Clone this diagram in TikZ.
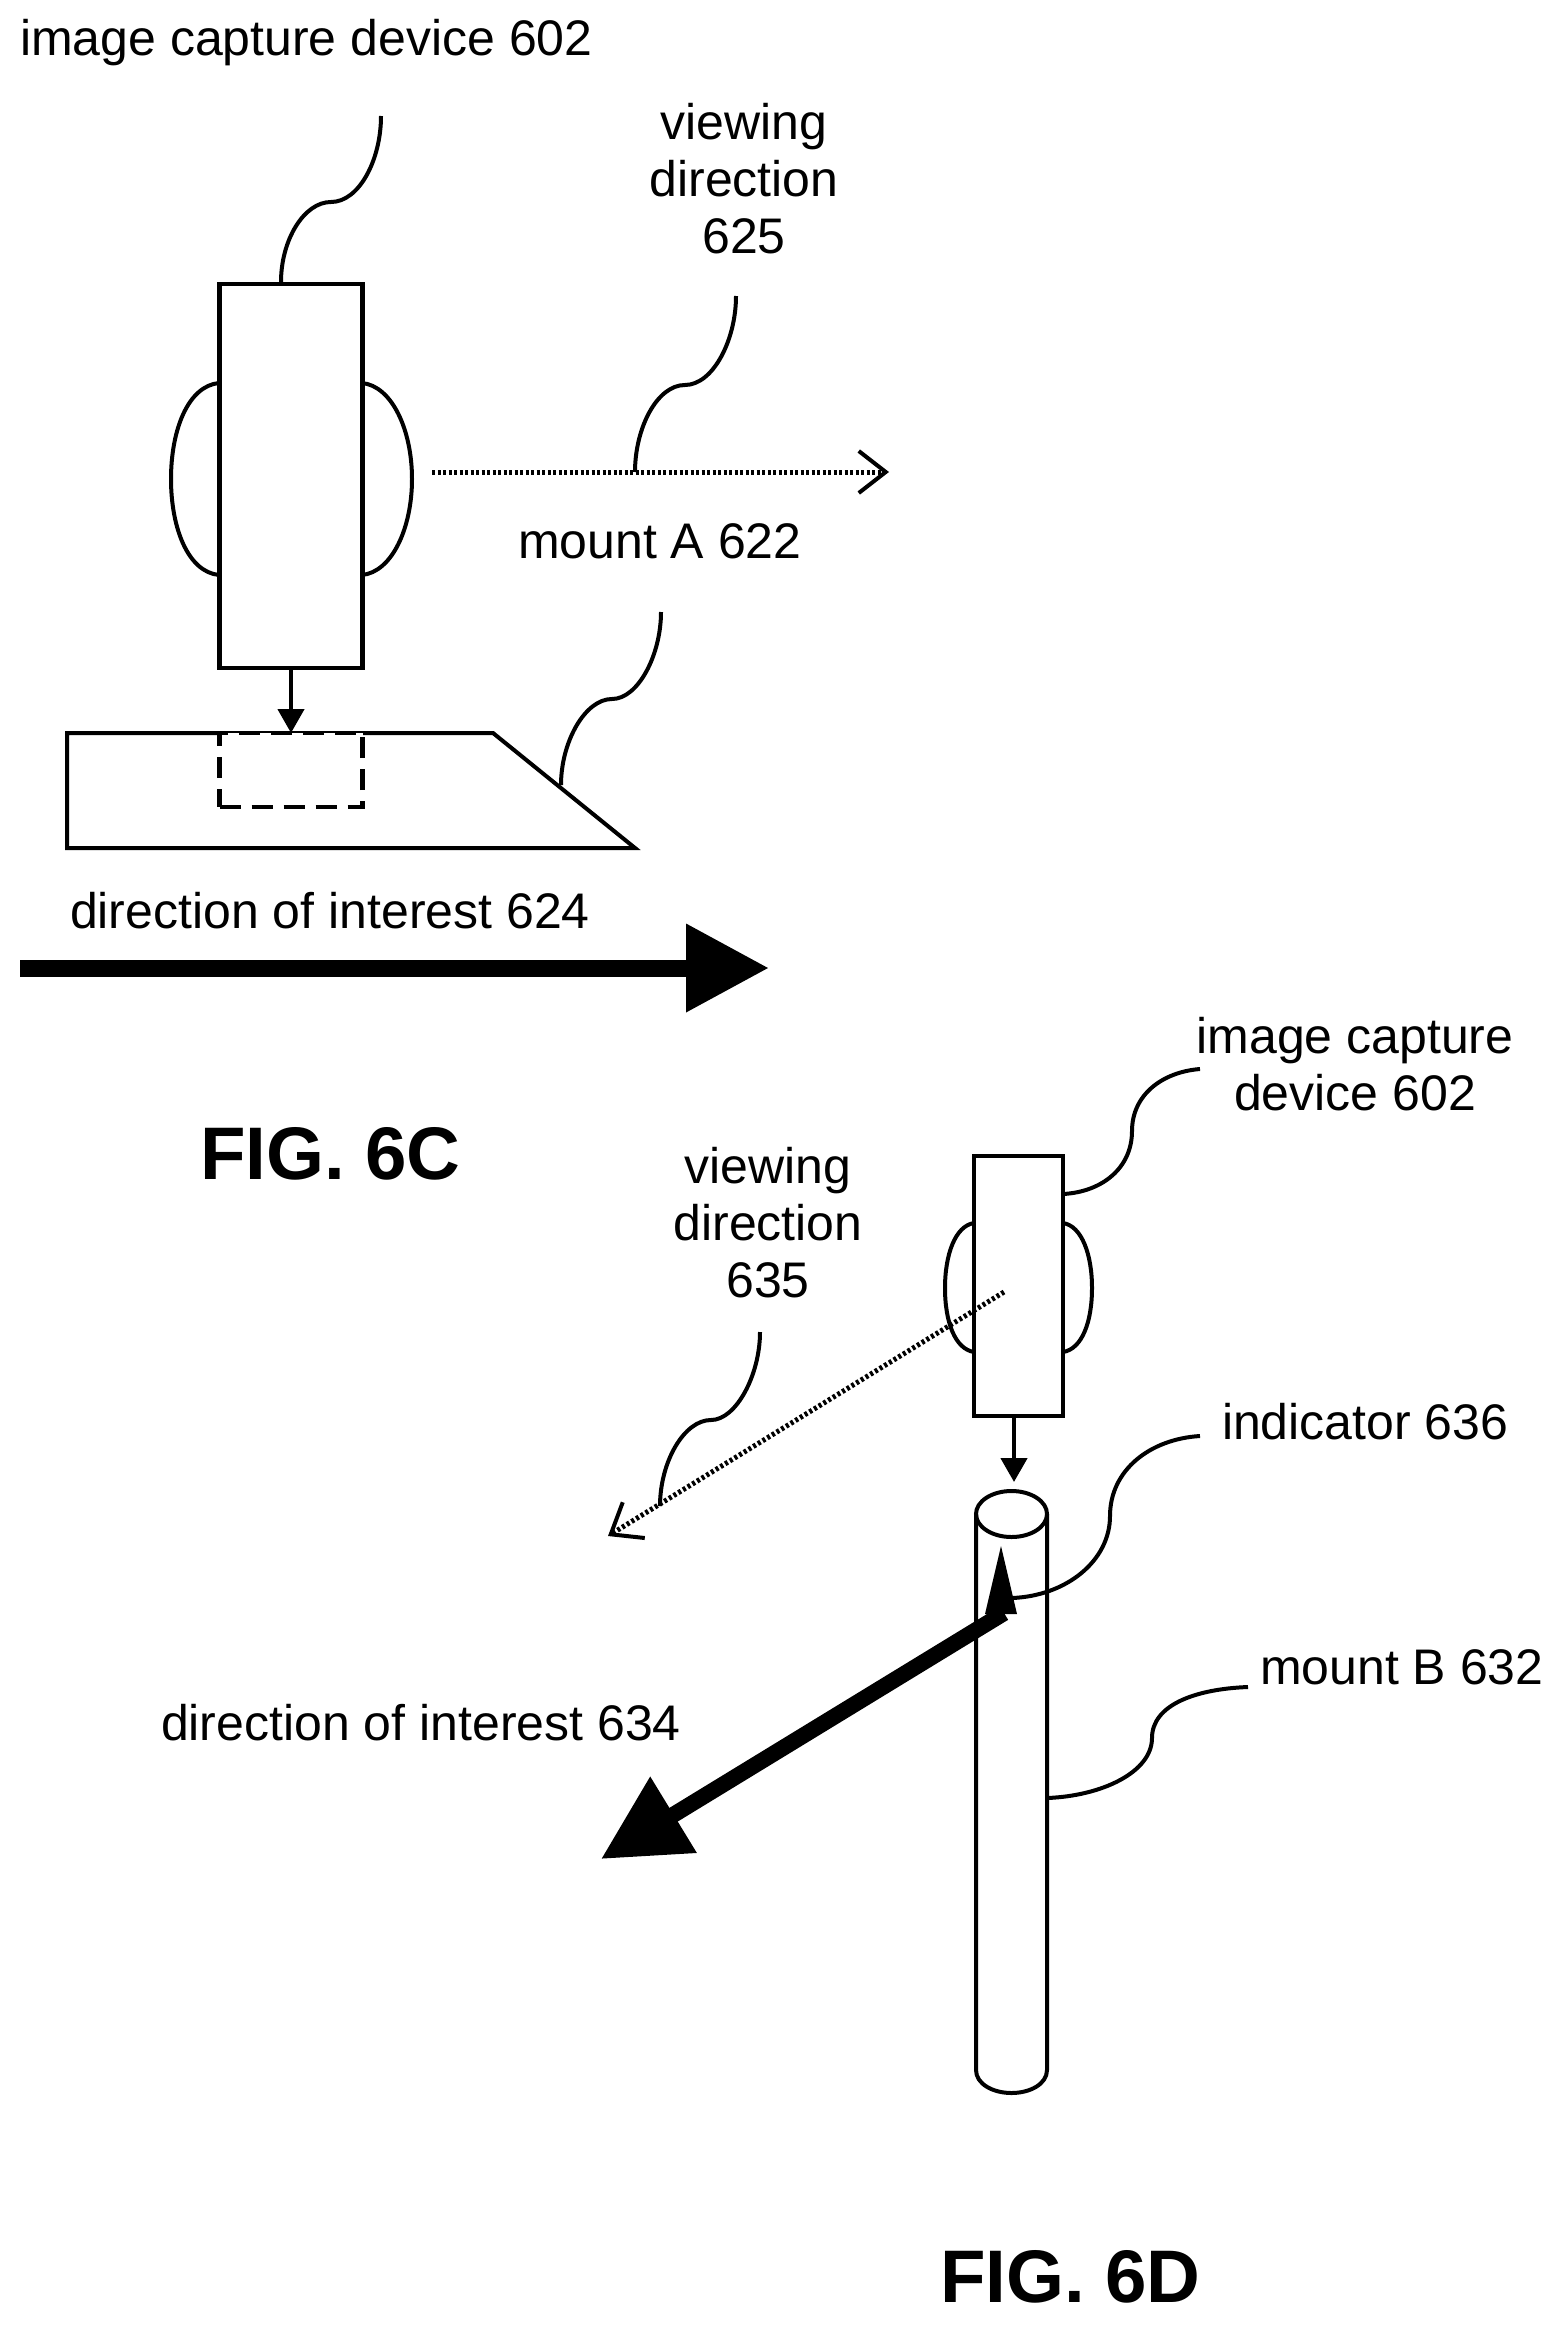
\documentclass[tikz,border=0pt]{standalone}
\usepackage{fontspec}
\setmainfont{Liberation Sans}
\usetikzlibrary{arrows.meta}
\tikzset{
  lbl/.style={inner sep=0pt,outer sep=0pt,anchor=base west,font=\fontsize{50}{57}\selectfont},
  mlbl/.style={inner sep=0pt,outer sep=0pt,anchor=base,align=center,font=\fontsize{50}{57}\selectfont},
  figlbl/.style={inner sep=0pt,outer sep=0pt,anchor=base west,font=\fontsize{74.5}{80}\selectfont\bfseries},
  box/.style={draw=black,line width=4.5pt,fill=white,inner sep=0pt,outer sep=0pt},
  outline/.style={draw=black,line width=4pt},
  dotline/.style={draw=black,line width=5pt,dash pattern=on 3pt off 2.5pt,-{Straight Barb[length=27pt,width=42pt,line width=4pt]}},
  pointer/.style={draw=black,line width=4.5pt,-{Triangle[length=24pt,width=26pt]}},
  bigarrow/.style={draw=black,line width=17pt,-{Triangle[length=83pt,width=84pt]}},
  solidtip/.style={fill=black,draw=none},
}
\begin{document}
\begin{tikzpicture}[x=1pt,y=-1pt]
\useasboundingbox[fill=white] (0,0) rectangle (1560,2325);
% ---------- FIG 6C : labels
\node[lbl] (tCam) at (20,56) {image capture device 602};
\node[mlbl] (tView) at (744,254) {viewing\\direction\\625};
\node[lbl] (tMountA) at (518,558) {mount A 622};
\node[lbl] (tDir) at (70,928) {direction of interest 624};
\node[figlbl] (tFigC) at (200,1179) {FIG. 6C};
% camera
\coordinate (cBLt) at (219,383); \coordinate (cBLb) at (219,575);
\coordinate (cBRt) at (362,383); \coordinate (cBRb) at (362,575);
\draw[outline] (cBLt) .. controls (188,386) and (171,430) .. (171,479) .. controls (171,528) and (188,572) .. (cBLb);
\draw[outline] (cBRt) .. controls (392,386) and (412,430) .. (412,479) .. controls (412,528) and (392,572) .. (cBRb);
\node[box,minimum width=143pt,minimum height=384pt] (cam) at (291,476) {};
% mount A
\coordinate (mA) at (67,733); \coordinate (mB) at (493,733); \coordinate (mC) at (635,848); \coordinate (mD) at (67,848);
\draw[outline,line join=miter] (mA) -- (mB) -- (mC) -- (mD) -- cycle;
\node[box,line width=4.5pt,dash pattern=on 21pt off 11pt,minimum width=143pt,minimum height=74pt] (slot) at (291,770) {};
\draw[pointer] (cam.south) -- (slot.north);
% viewing direction
\coordinate (vs) at (432,472); \coordinate (ve) at (889,472);
\draw[dotline] (vs) -- (ve);
\coordinate (a1) at (381,116); \coordinate (a2) at (331,202); \coordinate (a3) at (281,282);
\draw[outline] (a1) .. controls (381,160) and (359,202) .. (a2) .. controls (304,202) and (281,240) .. (a3);
\coordinate (b1) at (736,296); \coordinate (b2) at (685,385); \coordinate (b3) at (635,472);
\draw[outline] (b1) .. controls (736,340) and (713,385) .. (b2) .. controls (657,385) and (635,428) .. (b3);
\coordinate (c1) at (661,612); \coordinate (c2) at (612,699); \coordinate (c3) at (561,785);
\draw[outline] (c1) .. controls (661,655) and (638,699) .. (c2) .. controls (585,699) and (561,742) .. (c3);
% direction of interest
\coordinate (ds) at (20,968); \coordinate (de) at (769,968);
\draw[bigarrow] (ds) -- (de);
% ---------- FIG 6D : labels
\node[mlbl] (tCam2) at (1355,1110) {image capture\\device 602};
\node[mlbl] (tView2) at (768,1297) {viewing\\direction\\635};
\node[lbl] (tInd) at (1222,1439) {indicator 636};
\node[lbl] (tMountB) at (1260,1684) {mount B 632};
\node[lbl] (tDir2) at (161,1740) {direction of interest 634};
\node[figlbl] (tFigD) at (940,2302) {FIG. 6D};
% camera
\coordinate (dLt) at (974,1223); \coordinate (dLb) at (974,1352);
\coordinate (dRt) at (1063,1223); \coordinate (dRb) at (1063,1352);
\draw[outline] (dLt) .. controls (955,1226) and (945,1255) .. (945,1288) .. controls (945,1322) and (955,1349) .. (dLb);
\draw[outline] (dRt) .. controls (1082,1226) and (1092,1255) .. (1092,1288) .. controls (1092,1322) and (1082,1349) .. (dRb);
\node[box,minimum width=89pt,minimum height=260pt] (cam2) at (1018.5,1291) [yshift=5pt] {};
% cylinder mount
\coordinate (ct) at (1011.5,1514); \coordinate (cb) at (1011.5,2070);
\draw[outline] (ct) ellipse [x radius=35.5pt,y radius=23pt];
\coordinate (cl) at (976,1514); \coordinate (cr) at (1047,1514);
\coordinate (cl2) at (976,2070); \coordinate (cr2) at (1047,2070);
\draw[outline] (cl) -- (cl2) .. controls (976,2084) and (993,2093) .. (1011.5,2093) .. controls (1030,2093) and (1047,2084) .. (cr2) -- (cr);
\coordinate (cyltop) at (1014,1482);
\draw[pointer] (cam2.south -| cyltop) -- (cyltop);
% viewing direction
\coordinate (ws) at (1004,1292); \coordinate (we) at (608,1536);
\draw[dotline] (ws) -- (we);
% leaders
\coordinate (e1) at (1200,1069); \coordinate (e2) at (1132,1131); \coordinate (e3) at (1063,1194);
\draw[outline] (e1) .. controls (1162,1072) and (1132,1095) .. (e2) .. controls (1132,1168) and (1102,1192) .. (e3);
\coordinate (f1) at (760,1332); \coordinate (f2) at (711,1420); \coordinate (f3) at (660,1506);
\draw[outline] (f1) .. controls (760,1375) and (736,1420) .. (f2) .. controls (684,1420) and (660,1462) .. (f3);
\coordinate (g1) at (1200,1436); \coordinate (g2) at (1110,1516); \coordinate (g3) at (1012,1598);
\draw[outline] (g1) .. controls (1150,1439) and (1110,1470) .. (g2) .. controls (1110,1561) and (1066,1596) .. (g3);
\coordinate (h1) at (1248,1687); \coordinate (h2) at (1152,1738); \coordinate (h3) at (1047,1798);
\draw[outline] (h1) .. controls (1195,1689) and (1152,1705) .. (h2) .. controls (1152,1772) and (1102,1796) .. (h3);
% indicator
\coordinate (it) at (1001,1546); \coordinate (il) at (985,1614); \coordinate (ir) at (1017,1614);
\fill[solidtip] (it) -- (il) -- (ir) -- cycle;
% direction of interest
\coordinate (ps) at (1004,1613); \coordinate (pe) at (601,1859);
\draw[draw=black,line width=16pt,-{Triangle[length=85pt,width=85pt]}] (ps) -- (pe);
\end{tikzpicture}
\end{document}
